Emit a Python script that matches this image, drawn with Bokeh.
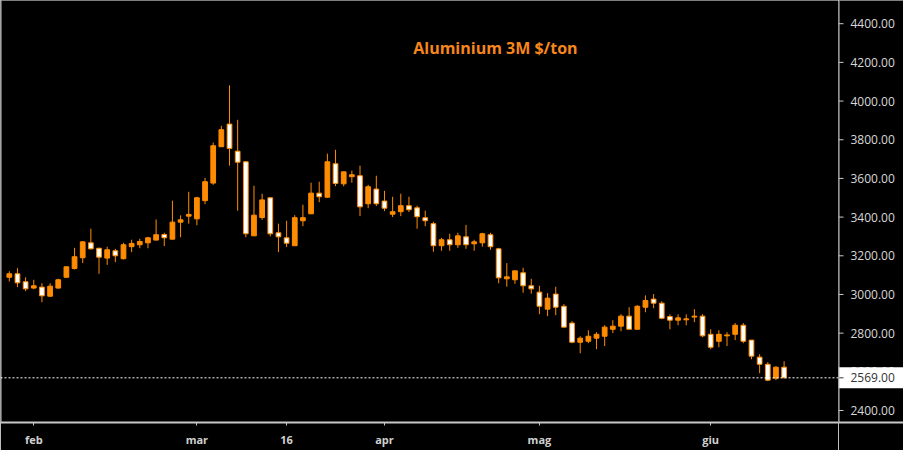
from bokeh.plotting import figure
from bokeh.layouts import row
from bokeh.models import ColumnDataSource, Range1d, FixedTicker, Span, Label
from bokeh.core.properties import value
from bokeh.embed import file_html
from bokeh.resources import INLINE

# daily LME aluminium 3M candles, late Jan -> early Jun (trading days only)
opens = [3089, 3107, 3066, 3033, 3038, 2991, 3033, 3089, 3134, 3190,
         3267, 3239, 3188, 3226, 3185, 3247, 3257, 3267, 3281, 3310,
         3286, 3374, 3405, 3391, 3485, 3576, 3764, 3881, 3741, 3686,
         3303, 3398, 3500, 3319, 3293, 3252, 3381, 3417, 3524, 3503,
         3676, 3572, 3609, 3614, 3469, 3545, 3483, 3415, 3428, 3459,
         3448, 3397, 3366, 3252, 3283, 3257, 3298, 3262, 3267, 3309,
         3236, 3081, 3076, 3112, 3045, 3012, 2924, 3002, 2939, 2852,
         2753, 2758, 2774, 2784, 2820, 2836, 2888, 2820, 2934, 2976,
         2955, 2886, 2867, 2869, 2883, 2888, 2794, 2758, 2786, 2794,
         2841, 2764, 2676, 2639, 2567, 2624]
highs = [3120, 3136, 3089, 3076, 3058, 3058, 3081, 3145, 3241, 3276,
         3340, 3241, 3247, 3236, 3267, 3283, 3288, 3298, 3388, 3319,
         3485, 3409, 3531, 3505, 3603, 3786, 3872, 4081, 3903, 3690,
         3562, 3521, 3502, 3366, 3381, 3410, 3464, 3578, 3583, 3728,
         3748, 3634, 3640, 3666, 3567, 3614, 3536, 3505, 3521, 3505,
         3459, 3433, 3376, 3293, 3314, 3319, 3360, 3283, 3319, 3319,
         3241, 3162, 3122, 3138, 3081, 3045, 3007, 3040, 2950, 2862,
         2784, 2815, 2805, 2841, 2867, 2898, 2934, 2945, 2995, 3002,
         2965, 2897, 2897, 2897, 2924, 2898, 2820, 2815, 2805, 2852,
         2852, 2764, 2691, 2650, 2629, 2655]
lows = [3067, 3038, 3017, 3027, 2960, 2988, 3031, 3087, 3129, 3162,
        3233, 3107, 3153, 3167, 3181, 3219, 3239, 3239, 3281, 3250,
        3286, 3296, 3366, 3358, 3467, 3567, 3764, 3666, 3433, 3296,
        3303, 3386, 3300, 3219, 3245, 3252, 3353, 3417, 3477, 3500,
        3560, 3559, 3578, 3405, 3446, 3457, 3431, 3400, 3405, 3426,
        3340, 3353, 3221, 3226, 3226, 3241, 3236, 3226, 3247, 3231,
        3058, 3040, 3055, 3009, 3004, 2898, 2888, 2893, 2831, 2748,
        2696, 2748, 2717, 2733, 2800, 2810, 2820, 2820, 2908, 2929,
        2872, 2820, 2841, 2841, 2857, 2779, 2717, 2727, 2733, 2764,
        2748, 2665, 2593, 2552, 2557, 2567]
closes = [3107, 3060, 3029, 3045, 2993, 3043, 3076, 3143, 3195, 3272,
          3236, 3193, 3231, 3200, 3257, 3264, 3274, 3293, 3309, 3293,
          3374, 3386, 3414, 3500, 3583, 3769, 3852, 3755, 3684, 3314,
          3410, 3489, 3314, 3298, 3265, 3397, 3397, 3524, 3505, 3686,
          3574, 3634, 3619, 3453, 3557, 3469, 3446, 3428, 3459, 3438,
          3402, 3381, 3252, 3283, 3257, 3303, 3257, 3272, 3314, 3247,
          3086, 3091, 3122, 3045, 3029, 2939, 2981, 2934, 2831, 2753,
          2774, 2784, 2794, 2831, 2836, 2888, 2820, 2939, 2969, 2955,
          2877, 2867, 2879, 2874, 2888, 2786, 2727, 2794, 2791, 2841,
          2758, 2681, 2639, 2557, 2624, 2569]

month_ticks = {3: "feb", 23: "mar", 34: "16", 46: "apr", 65: "mag", 86: "giu"}
price_ticks = [2400, 2600, 2800, 3000, 3200, 3400, 3600, 3800, 4000, 4200, 4400]

ORANGE = "#ff8c00"
AXIS = "#c8c8c8"
AX_R, AX_B = 65, 28
W, H = 903, 450

idx = list(range(len(closes)))
up = [c >= o for o, c in zip(opens, closes)]

def make_src(flag):
    sel = [i for i in idx if up[i] == flag]
    return ColumnDataSource(dict(
        x=sel,
        top=[max(opens[i], closes[i]) for i in sel],
        bottom=[min(opens[i], closes[i]) for i in sel],
        high=[highs[i] for i in sel],
        low=[lows[i] for i in sel],
    ))

src_up = make_src(True)
src_dn = make_src(False)

yr = Range1d(2338, 4520)

# main candlestick panel
p = figure(width=W - AX_R, height=H, output_backend="svg", toolbar_location=None,
           x_range=Range1d(-1.08, 101.67), y_range=yr, y_axis_location=None,
           background_fill_color="black", border_fill_color="black",
           outline_line_color=None, min_border_left=0, min_border_right=0,
           min_border_top=0, min_border_bottom=AX_B)
p.grid.visible = False

for src, fill in ((src_up, ORANGE), (src_dn, "white")):
    p.segment(x0="x", y0="high", x1="x", y1="low", source=src, line_color=ORANGE, line_width=1)
    p.vbar(x="x", top="top", bottom="bottom", width=0.58, source=src,
           fill_color=fill, line_color=ORANGE, line_width=1)

p.xaxis.ticker = FixedTicker(ticks=list(month_ticks.keys()))
p.xaxis.major_label_overrides = month_ticks
p.xaxis.axis_line_color = AXIS
p.xaxis.axis_line_width = 2
p.xaxis.major_tick_line_color = AXIS
p.xaxis.major_tick_out = 3
p.xaxis.major_tick_in = 0
p.xaxis.minor_tick_line_color = None
p.xaxis.major_label_standoff = 6
p.xaxis.major_label_text_color = "#d0d0d0"
p.xaxis.major_label_text_font = "Open Sans"
p.xaxis.major_label_text_font_style = "bold"
p.xaxis.major_label_text_font_size = "11px"

p.add_layout(Span(location=p.x_range.start, dimension="height", line_color=AXIS, line_width=2))
p.add_layout(Span(location=closes[-1], dimension="width", line_color="white",
                  line_width=1, line_dash="2 2"))

p.add_layout(Label(x=59.6, y=4272, text="Aluminium 3M $/ton", text_align="center",
                   text_baseline="middle", text_color="#f7861c", text_font="Open Sans",
                   text_font_style="bold", text_font_size="16px"))

# price scale panel on the right (x in pixels)
q = figure(width=AX_R, height=H, output_backend="svg", toolbar_location=None,
           x_range=Range1d(0, AX_R), y_range=yr, y_axis_location=None,
           background_fill_color="black", border_fill_color="black",
           outline_line_color=None, min_border_left=0, min_border_right=0,
           min_border_top=0, min_border_bottom=AX_B)
q.grid.visible = False
q.xaxis.ticker = FixedTicker(ticks=[])
q.xaxis.axis_line_color = AXIS
q.xaxis.axis_line_width = 2
q.xaxis.major_label_text_font_size = "0px"

q.add_layout(Span(location=0.5, dimension="height", line_color=AXIS, line_width=1))
q.segment(x0=0, x1=5, y0=price_ticks, y1=price_ticks, line_color=AXIS, line_width=1)
q.text(x=12, y=price_ticks, text=["%.2f" % t for t in price_ticks],
       text_font=value("Open Sans"), text_font_size="12px", text_color="#d8d8d8",
       text_align="left", text_baseline="middle")

# last-price tag
q.rect(x=AX_R / 2, y=closes[-1], width=AX_R, height=21, height_units="screen",
       fill_color="white", line_color=None)
q.segment(x0=0, x1=5, y0=[closes[-1]], y1=[closes[-1]], line_color="#333333", line_width=1)
q.text(x=12, y=[closes[-1]], text=["%.2f" % closes[-1]],
       text_font=value("Open Sans"), text_font_size="12px", text_color="#333333",
       text_align="left", text_baseline="middle")

layout = row(p, q, spacing=0)

open("out.html", "w").write(file_html(layout, INLINE))
